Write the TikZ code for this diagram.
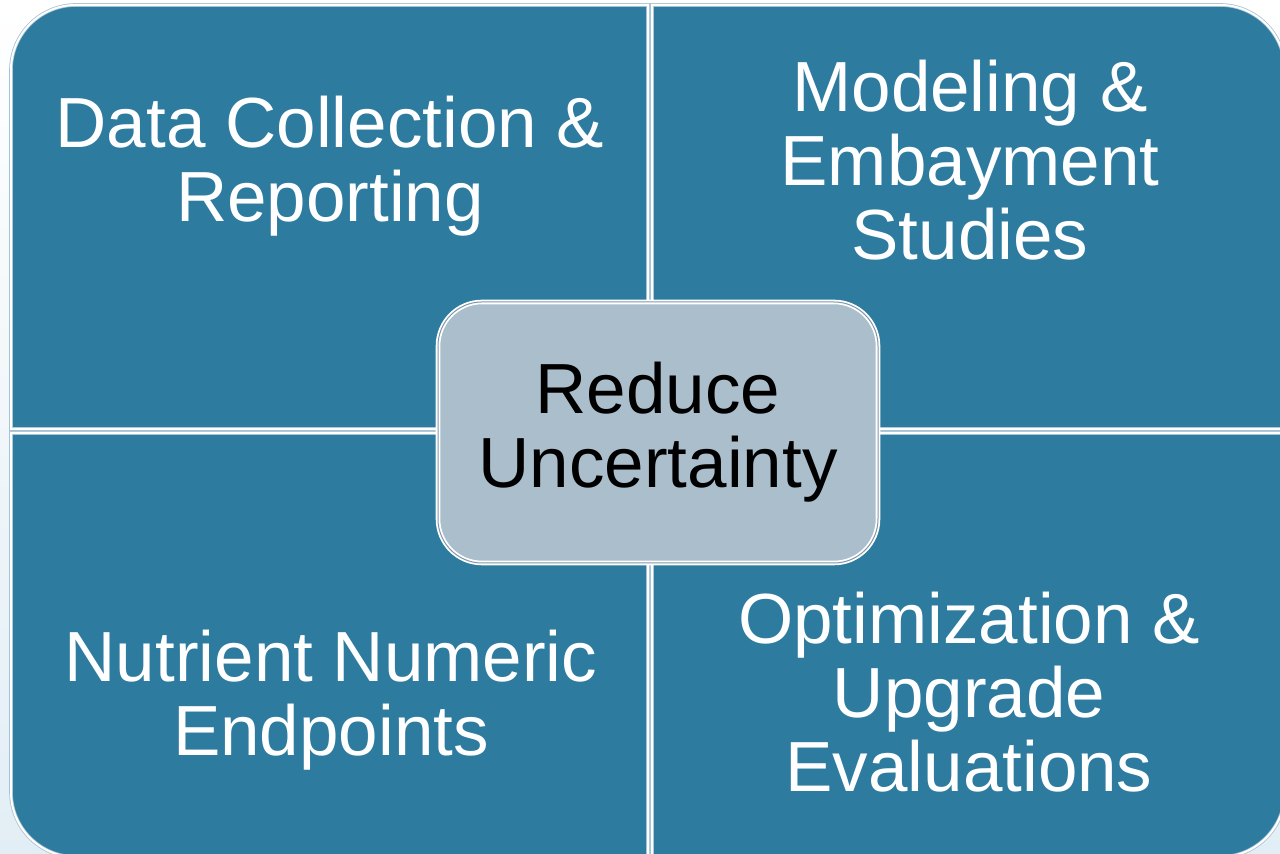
\documentclass[tikz,border=0pt]{standalone}
\usepackage{fontspec}
\setmainfont{Liberation Sans}
\definecolor{quadblu}{HTML}{2D7B9F}
\definecolor{bordo}{HTML}{A6C3D3}
\definecolor{centro}{HTML}{ABBECC}
\definecolor{bordocentro}{HTML}{7E98A9}
\definecolor{sfondo}{HTML}{E2EEF5}
\tikzset{
  quadrante/.style={fill=quadblu, draw=bordo, double=white, double distance=1pt, line width=0.4pt},
  testo/.style={text=white, align=center, font=\fontsize{35.5}{37}\selectfont},
  riquadro/.style={fill=centro, draw=white, double=bordocentro, double distance=0.5pt, line width=0.9pt,
    rounded corners=22pt, minimum width=220pt, minimum height=130.5pt, align=center,
    font=\fontsize{35.5}{37}\selectfont},
}
\begin{document}
\begin{tikzpicture}[x=0.5pt, y=0.5pt]
    \useasboundingbox (0,0) rectangle (1280,854);
    \shade[top color=white, bottom color=sfondo] (0,0) rectangle (1280,854);

    % Quadranti
    \path[quadrante] (648,425) -- (11,425) -- (11,784) arc[start angle=180, end angle=90, radius=32.5pt] -- (648,849) -- cycle;
    \path[quadrante] (652,425) -- (652,849) -- (1220,849) arc[start angle=90, end angle=0, radius=32.5pt] -- (1285,425) -- cycle;
    \path[quadrante] (648,421) -- (11,421) -- (11,62) arc[start angle=180, end angle=270, radius=32.5pt] -- (648,-3) -- cycle;
    \path[quadrante] (652,421) -- (652,-3) -- (1220,-3) arc[start angle=270, end angle=360, radius=32.5pt] -- (1285,421) -- cycle;

    % Testi
    \node[testo] (dati) at (330,688) {Data Collection \&\\Reporting};
    \node[testo] (modelli) at (970,694) {Modeling \&\\Embayment\\Studies};
    \node[testo] (nutrienti) at (331,154) {Nutrient Numeric\\Endpoints};
    \node[testo] (ottimizzazione) at (969,162) {Optimization \&\\Upgrade\\Evaluations};

    % Centro
    \node[riquadro] (incertezza) at (658,421.5) {Reduce\\Uncertainty};
\end{tikzpicture}
\end{document}
